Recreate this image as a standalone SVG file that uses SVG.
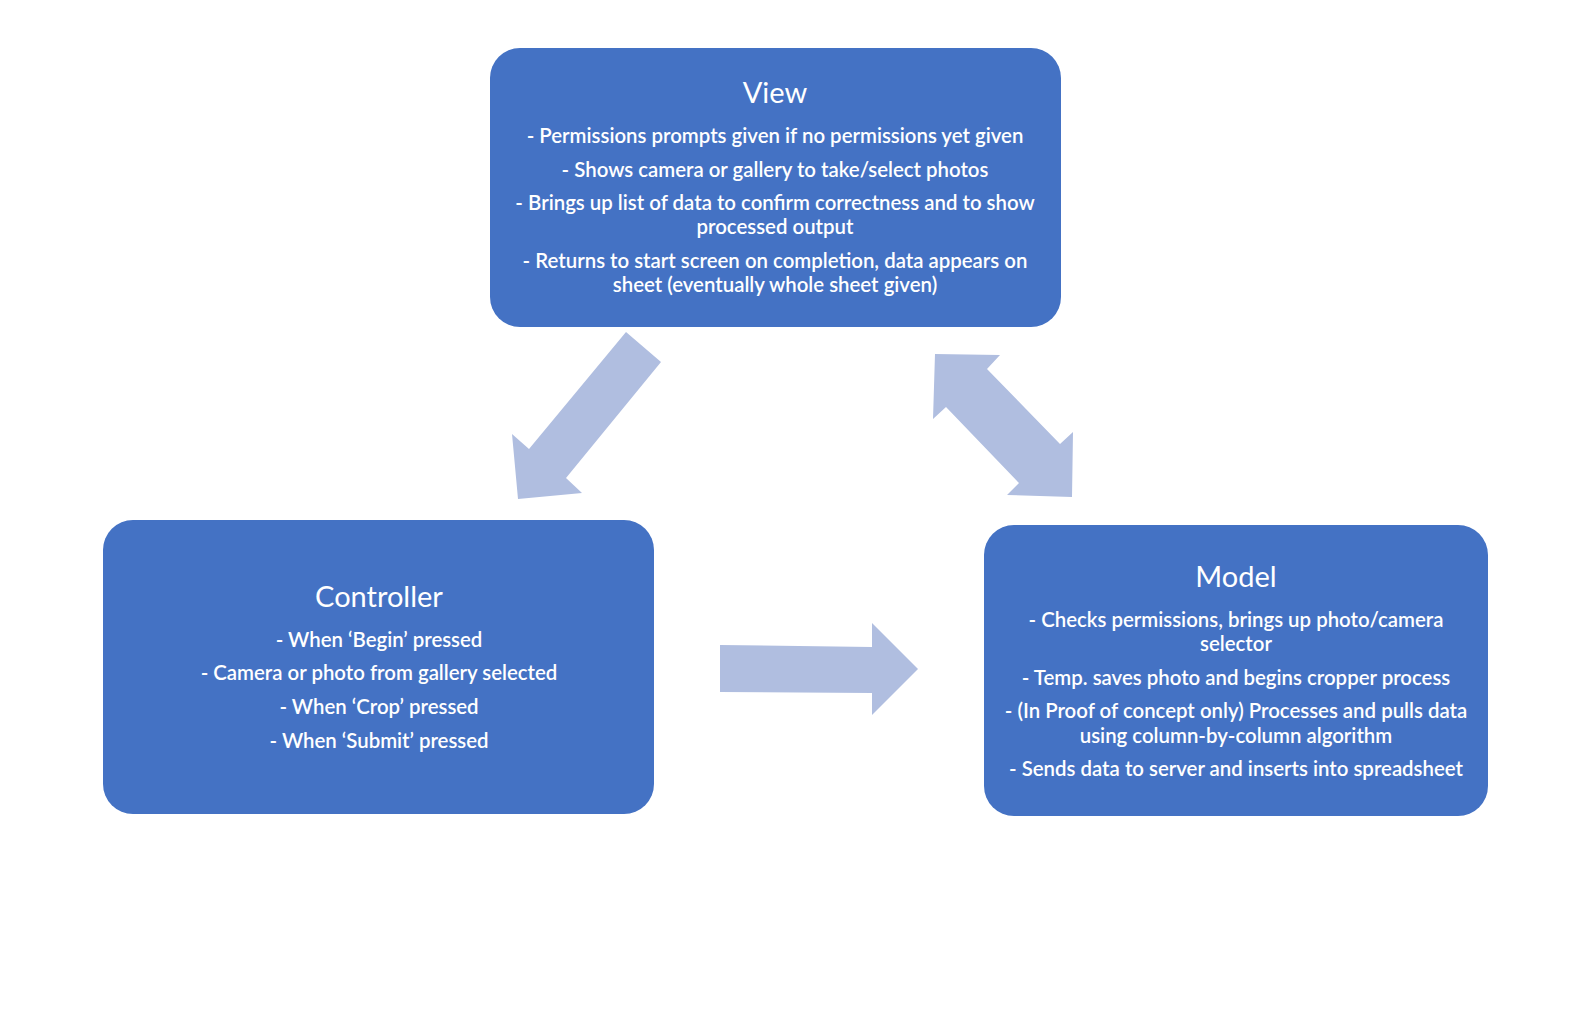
<svg xmlns="http://www.w3.org/2000/svg" width="1576" height="1024" viewBox="0 0 1576 1024">
<style>
.box{fill:#4472C4;}
.arr{fill:#B0BEE0;}
.t{font-family:Lato,"Open Sans","Liberation Sans",sans-serif;fill:#ffffff;text-anchor:middle;}
.title{font-size:29px;}
.b{font-size:20.4px;font-weight:600;}
</style>
<rect width="1576" height="1024" fill="#ffffff"/>
<g id="connectors">
<polygon class="arr" points="626,332 661,362 566,478 582,493 518,499 512,434 529,449"/>
<polygon class="arr" points="935,354 1000,355 987,369 1060,444 1073,432 1072,497 1007,495 1019,483 946,407 933,419"/>
<polygon class="arr" points="720,645 872,647 872,623 918,669 872,715 872,693 720,692"/>
</g>
<g id="view">
<rect class="box" x="490" y="48" width="571" height="279" rx="30"/>
<text class="t title" x="775" y="103">View</text>
<text class="t b" x="775" y="143">- Permissions prompts given if no permissions yet given</text>
<text class="t b" x="775" y="177">- Shows camera or gallery to take/select photos</text>
<text class="t b" x="775" y="210">- Brings up list of data to confirm correctness and to show</text>
<text class="t b" x="775" y="234">processed output</text>
<text class="t b" x="775" y="268">- Returns to start screen on completion, data appears on</text>
<text class="t b" x="775" y="292">sheet (eventually whole sheet given)</text>
</g>
<g id="controller">
<rect class="box" x="103" y="520" width="551" height="294" rx="30"/>
<text class="t title" x="379" y="607">Controller</text>
<text class="t b" x="379" y="647">- When ‘Begin’ pressed</text>
<text class="t b" x="379" y="680">- Camera or photo from gallery selected</text>
<text class="t b" x="379" y="714">- When ‘Crop’ pressed</text>
<text class="t b" x="379" y="748">- When ‘Submit’ pressed</text>
</g>
<g id="model">
<rect class="box" x="984" y="525" width="504" height="291" rx="30"/>
<text class="t title" x="1236" y="587">Model</text>
<text class="t b" x="1236" y="627">- Checks permissions, brings up photo/camera</text>
<text class="t b" x="1236" y="651">selector</text>
<text class="t b" x="1236" y="685">- Temp. saves photo and begins cropper process</text>
<text class="t b" x="1236" y="718">- (In Proof of concept only) Processes and pulls data</text>
<text class="t b" x="1236" y="743">using column-by-column algorithm</text>
<text class="t b" x="1236" y="776">- Sends data to server and inserts into spreadsheet</text>
</g>
</svg>
